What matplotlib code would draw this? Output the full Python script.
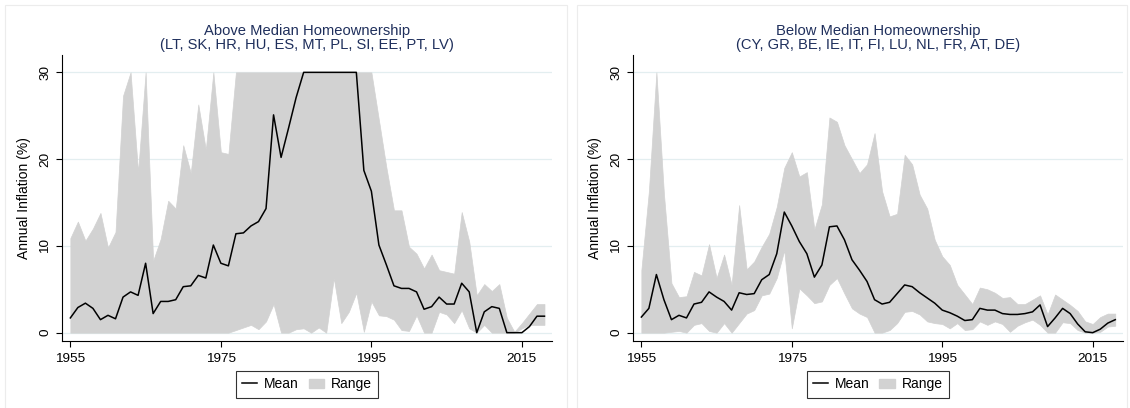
import numpy as np
import matplotlib
matplotlib.use("Agg")
import matplotlib.pyplot as plt
from matplotlib.patches import Rectangle, Patch
from matplotlib.lines import Line2D

plt.rcParams['font.family'] = ['Liberation Sans', 'DejaVu Sans']

years = np.arange(1955, 2019)

# Above median homeownership countries
above_mean = [1.7, 2.9, 3.4, 2.8, 1.5, 2.0, 1.6, 4.1, 4.7, 4.3,
              8.0, 2.2, 3.6, 3.6, 3.8, 5.3, 5.4, 6.6, 6.3, 10.1,
              8.0, 7.7, 11.4, 11.5, 12.3, 12.8, 14.3, 25.1, 20.2, 23.6,
              27.1, 30, 30, 30, 30, 30, 30, 30, 30, 18.7,
              16.3, 10.1, 7.8, 5.4, 5.1, 5.1, 4.7, 2.7, 3.0, 4.1,
              3.3, 3.3, 5.7, 4.7, 0.0, 2.4, 3.0, 2.8, 0.0, 0.0,
              0.0, 0.7, 1.9, 1.9]
above_hi = [10.9, 12.8, 10.6, 12.0, 13.8, 9.8, 11.6, 27.3, 30, 18.5,
            30, 8.3, 10.8, 15.2, 14.3, 21.6, 18.4, 26.3, 21.1, 30,
            20.8, 20.6, 30, 30, 30, 30, 30, 30, 30, 30,
            30, 30, 30, 30, 30, 30, 30, 30, 30, 30,
            30, 24.5, 19.0, 14.1, 14.1, 9.9, 9.1, 7.4, 9.0, 7.2,
            7.0, 6.8, 13.9, 10.5, 4.3, 5.6, 4.8, 5.6, 1.7, 0.1,
            1.1, 2.2, 3.3, 3.3]
above_lo = [0] * 22 + [
            0.3, 0.6, 0.9, 0.4, 1.3, 3.3, 0.0, 0.0, 0.4, 0.5,
            0.0, 0.6, 0.0, 6.3, 1.1, 2.4, 4.6, 0.1, 3.6, 2.0,
            1.9, 1.5, 0.3, 0.2, 2.0, 0.0, 0.0, 2.4, 2.1, 1.1,
            2.6, 0.5, 0.0, 0.9, 0.0, 0.0, 0.0, 0.0, 0.5, 0.9,
            0.9, 0.9]

# Below median homeownership countries
below_mean = [1.8, 2.8, 6.7, 3.8, 1.5, 2.0, 1.7, 3.3, 3.5, 4.7,
              4.1, 3.6, 2.6, 4.6, 4.4, 4.5, 6.1, 6.7, 9.1, 13.9,
              12.3, 10.5, 9.1, 6.4, 7.8, 12.2, 12.3, 10.7, 8.4, 7.2,
              5.9, 3.8, 3.3, 3.5, 4.5, 5.5, 5.3, 4.6, 4.0, 3.4,
              2.6, 2.3, 1.9, 1.4, 1.5, 2.8, 2.6, 2.6, 2.2, 2.1,
              2.1, 2.2, 2.4, 3.2, 0.7, 1.7, 2.8, 2.2, 1.0, 0.1,
              0.0, 0.4, 1.1, 1.5]
below_hi = [7.2, 16.3, 30, 16.0, 5.7, 4.1, 4.2, 7.0, 6.6, 10.2,
            6.3, 9.0, 5.5, 14.7, 7.3, 8.2, 9.9, 11.4, 14.5, 19.0,
            20.8, 18.0, 18.5, 11.9, 14.8, 24.8, 24.3, 21.6, 20.0, 18.4,
            19.4, 23.0, 16.3, 13.4, 13.7, 20.5, 19.4, 15.9, 14.3, 10.7,
            8.8, 7.8, 5.5, 4.4, 3.3, 5.2, 5.0, 4.6, 4.0, 4.1,
            3.3, 3.3, 3.8, 4.3, 2.1, 4.4, 3.8, 3.2, 2.5, 1.3,
            1.0, 1.8, 2.2, 2.2]
below_lo = [0.0, 0.0, 0.0, 0.0, 0.1, 0.2, 0.0, 0.9, 1.1, 0.2,
            0.0, 1.1, 0.0, 1.1, 2.2, 2.6, 4.3, 4.5, 6.3, 9.5,
            0.5, 5.1, 4.3, 3.4, 3.6, 5.5, 6.3, 4.5, 2.8, 2.2,
            1.8, 0.0, 0.0, 0.3, 1.1, 2.4, 2.5, 2.1, 1.3, 1.1,
            1.0, 0.5, 1.1, 0.3, 0.4, 1.3, 0.9, 1.3, 1.0, 0.1,
            0.8, 1.2, 1.5, 0.9, 0.0, 0.0, 1.2, 1.1, 0.3, 0.0,
            0.0, 0.1, 0.7, 0.8]

titles = ["Above Median Homeownership\n(LT, SK, HR, HU, ES, MT, PL, SI, EE, PT, LV)",
          "Below Median Homeownership\n(CY, GR, BE, IE, IT, FI, LU, NL, FR, AT, DE)"]

W, H = 1130, 408
fig = plt.figure(figsize=(W / 100, H / 100), dpi=100)

# faint panel frames
for x0, x1 in [(5, 567), (577, 1127)]:
    fig.patches.append(Rectangle((x0 / W, -0.01), (x1 - x0) / W, (H - 5) / H + 0.01,
                                 transform=fig.transFigure, fill=False,
                                 edgecolor='#ececec', linewidth=0.8))

fill_col = '#d2d2d2'
title_col = '#1f2f5c'

panels = [(61.7, 552, above_mean, above_lo, above_hi),
          (632.7, 1122.8, below_mean, below_lo, below_hi)]

for (px0, px1, mean, lo, hi), title in zip(panels, titles):
    ax = fig.add_axes([px0 / W, (H - 341) / H, (px1 - px0) / W, (341 - 55) / H])
    ax.fill_between(years, lo, hi, color=fill_col, linewidth=0.5, edgecolor=fill_col)
    ax.plot(years, mean, color='black', linewidth=1.1)
    ax.set_xlim(1953.85, 2019.0)
    ax.set_ylim(-0.96, 32.0)
    ax.set_xticks([1955, 1975, 1995, 2015])
    ax.set_yticks([0, 10, 20, 30])
    ax.grid(axis='y', color='#e3eef0', linewidth=0.9)
    ax.set_axisbelow(True)
    for s in ['top', 'right']:
        ax.spines[s].set_visible(False)
    for s in ['left', 'bottom']:
        ax.spines[s].set_linewidth(0.8)
    ax.tick_params(axis='both', direction='out', length=4, width=0.8, labelsize=9.7)
    ax.tick_params(axis='x', pad=4.5)
    for lab in ax.get_yticklabels():
        lab.set_rotation(90)
        lab.set_va('center')
    ax.set_ylabel('Annual Inflation (%)', fontsize=10, labelpad=6)
    ax.set_title(title, fontsize=10.6, color=title_col, linespacing=1.0, pad=4)
    handles = [Line2D([], [], color='black', linewidth=1.1),
               Patch(facecolor=fill_col, edgecolor=fill_col)]
    leg = ax.legend(handles, ['Mean', 'Range'], ncol=2, loc='upper center',
                    bbox_to_anchor=(0.5, -0.105), frameon=True, fancybox=False,
                    fontsize=10, handlelength=1.1, handletextpad=0.5,
                    columnspacing=0.7, borderpad=0.45, borderaxespad=0)
    leg.get_frame().set_edgecolor('black')
    leg.get_frame().set_linewidth(0.8)

fig.savefig('out.png', dpi=100, facecolor='white')
